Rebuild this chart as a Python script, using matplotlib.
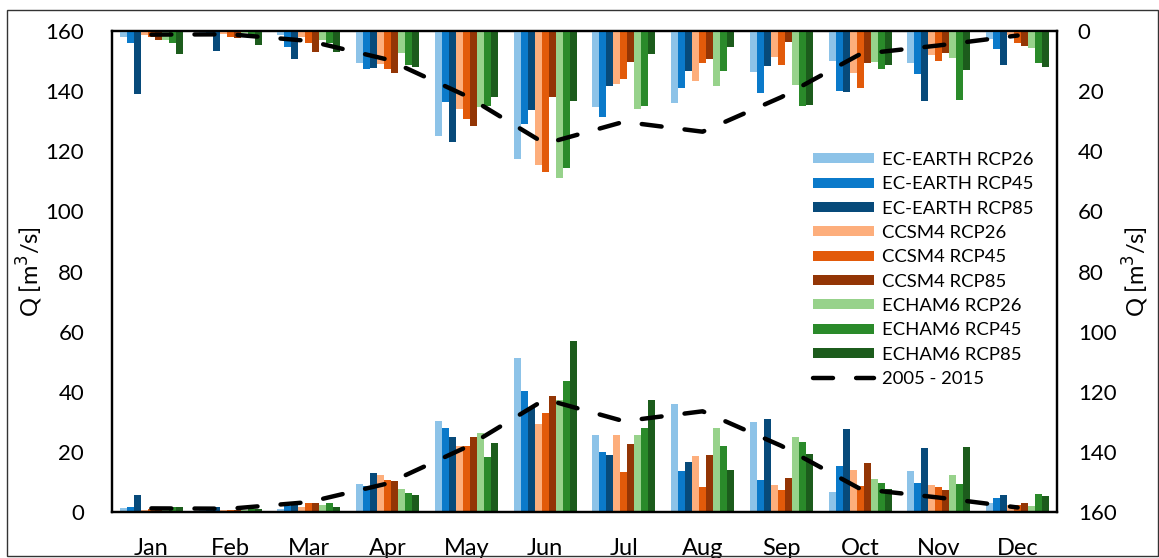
import matplotlib
matplotlib.use("Agg")
import matplotlib.pyplot as plt
from matplotlib.patches import Rectangle
import numpy as np

plt.rcParams['font.family'] = ['Lato', 'DejaVu Sans']

months = ["Jan", "Feb", "Mar", "Apr", "May", "Jun", "Jul", "Aug", "Sep", "Oct", "Nov", "Dec"]
series_names = ["EC-EARTH RCP26", "EC-EARTH RCP45", "EC-EARTH RCP85",
                "CCSM4 RCP26", "CCSM4 RCP45", "CCSM4 RCP85",
                "ECHAM6 RCP26", "ECHAM6 RCP45", "ECHAM6 RCP85"]
colors = ["#8DC3E8", "#0B7ACA", "#074A7A",
          "#FDAE7C", "#E25A0A", "#933505",
          "#97D28B", "#2A8A2A", "#1C5C1C"]

# Bottom bars (left axis)
bottom_vals = [
    [1.3, 0.5, 1.0, 9.4, 30.3, 51.3, 25.6, 35.9, 29.9, 6.7, 13.7, 3.1],   # EC26
    [1.5, 0.5, 2.0, 8.8, 27.9, 40.2, 19.8, 13.6, 10.6, 15.2, 9.8, 4.8],   # EC45
    [5.7, 1.5, 3.3, 13.0, 25.1, 34.9, 19.0, 16.7, 30.9, 27.6, 21.3, 5.6], # EC85
    [0.5, 0.5, 1.8, 12.2, 22.1, 29.4, 25.6, 18.7, 9.0, 14.1, 9.0, 2.4],   # CCSM26
    [1.0, 0.5, 3.0, 10.7, 22.0, 32.9, 13.2, 8.2, 7.4, 8.6, 8.3, 2.4],     # CCSM45
    [1.0, 0.5, 3.0, 10.2, 24.9, 38.7, 22.6, 19.0, 11.3, 16.2, 7.4, 2.9],  # CCSM85
    [1.0, 0.5, 2.2, 7.6, 26.2, 37.1, 25.6, 27.9, 24.8, 10.9, 12.4, 2.1],  # ECHAM26
    [1.5, 1.0, 3.0, 6.3, 18.3, 43.7, 27.9, 22.1, 23.2, 9.8, 9.3, 5.9],    # ECHAM45
    [1.8, 1.0, 1.8, 5.7, 22.8, 56.8, 37.1, 14.0, 19.3, 7.8, 21.7, 5.2],   # ECHAM85
]

# Top bars (right axis, inverted)
top_vals = [
    [1.9, 0.8, 1.3, 10.8, 35.0, 42.6, 25.2, 24.1, 13.8, 9.9, 10.6, 2.8],   # EC26
    [3.9, 0.8, 5.2, 12.8, 23.6, 31.0, 28.6, 18.9, 20.6, 20.0, 14.4, 6.1],  # EC45
    [20.8, 6.6, 9.3, 12.2, 37.0, 26.3, 18.3, 13.2, 11.6, 20.2, 23.3, 11.3],# EC85
    [1.3, 1.0, 2.1, 11.1, 26.1, 44.7, 17.7, 16.6, 8.8, 14.1, 8.0, 1.3],    # CCSM26
    [2.0, 1.9, 3.9, 12.8, 29.2, 46.9, 16.1, 10.8, 11.3, 19.1, 9.9, 4.1],   # CCSM45
    [3.0, 2.4, 6.9, 14.1, 31.6, 21.9, 10.4, 9.2, 3.6, 10.6, 7.4, 4.9],     # CCSM85
    [3.0, 0.8, 3.0, 7.2, 25.4, 48.8, 25.8, 18.3, 18.0, 10.4, 9.1, 5.8],    # ECHAM26
    [3.9, 1.2, 3.9, 11.3, 25.0, 45.7, 25.0, 13.2, 25.0, 12.6, 23.0, 10.8], # ECHAM45
    [7.7, 4.6, 6.9, 11.9, 21.9, 23.3, 7.7, 5.4, 24.7, 11.3, 13.0, 11.9],   # ECHAM85
]

# Reference period 2005 - 2015
ref_vals = [1.2, 1.1, 3.3, 9.5, 21.6, 37.5, 30.2, 33.5, 22.0, 7.7, 4.8, 1.5]
ref_label = "2005 - 2015"

W, H = 1159, 558
fig = plt.figure(figsize=(W / 100, H / 100), dpi=100)
ax = fig.add_axes([112 / W, 1 - 512 / H, (1057 - 112) / W, (512 - 31) / H])
ax2 = ax.twinx()

x = np.arange(len(months))
n = len(series_names)
bw = 0.089
offsets = (np.arange(n) - (n - 1) / 2) * bw

handles = []
for i in range(n):
    b = ax.bar(x + offsets[i], bottom_vals[i], width=bw, color=colors[i],
               label=series_names[i], zorder=2, linewidth=0)
    handles.append(b)
    ax2.bar(x + offsets[i], top_vals[i], width=bw, color=colors[i], zorder=2, linewidth=0)

dash_kw = dict(color="black", lw=3.2, dashes=(4.5, 5.2), dash_capstyle="round", zorder=5)
ln, = ax.plot(x, ref_vals, label=ref_label, **dash_kw)
ax2.plot(x, ref_vals, **dash_kw)
handles.append(ln)

ax.set_xlim(-0.5, 11.5)
ax.set_ylim(0, 160)
ax2.set_ylim(160, 0)
ax.set_yticks(np.arange(0, 161, 20))
ax2.set_yticks(np.arange(0, 161, 20))
ax.set_xticks(x)
ax.set_xticklabels(months)

ax.tick_params(axis="y", length=0, pad=20, labelsize=16, colors="#000000")
ax.tick_params(axis="x", length=0, pad=19, labelsize=17)
ax2.tick_params(axis="y", length=0, pad=15, labelsize=16)

for a in (ax, ax2):
    for s in a.spines.values():
        s.set_linewidth(1.6)
        s.set_color("black")

ax.set_ylabel("Q [m$^3$/s]", fontsize=17, labelpad=0)
ax2.set_ylabel("Q [m$^3$/s]", fontsize=17, labelpad=3)

leg = ax2.legend(handles=handles, labels=series_names + [ref_label],
                 loc="upper left", bbox_to_anchor=(813 / W, 1 - 152 / H),
                 bbox_transform=fig.transFigure, frameon=False, fontsize=13.3,
                 handlelength=3.3, handleheight=0.45, handletextpad=0.45,
                 labelspacing=0.45, borderaxespad=0, borderpad=0)
leg.set_zorder(10)

fig.patches.append(Rectangle((7 / W, 1 - 556 / H), (W - 8) / W, (556 - 10) / H,
                             transform=fig.transFigure, fill=False,
                             edgecolor="#333333", lw=1.0))

fig.savefig("out.png", dpi=100)
